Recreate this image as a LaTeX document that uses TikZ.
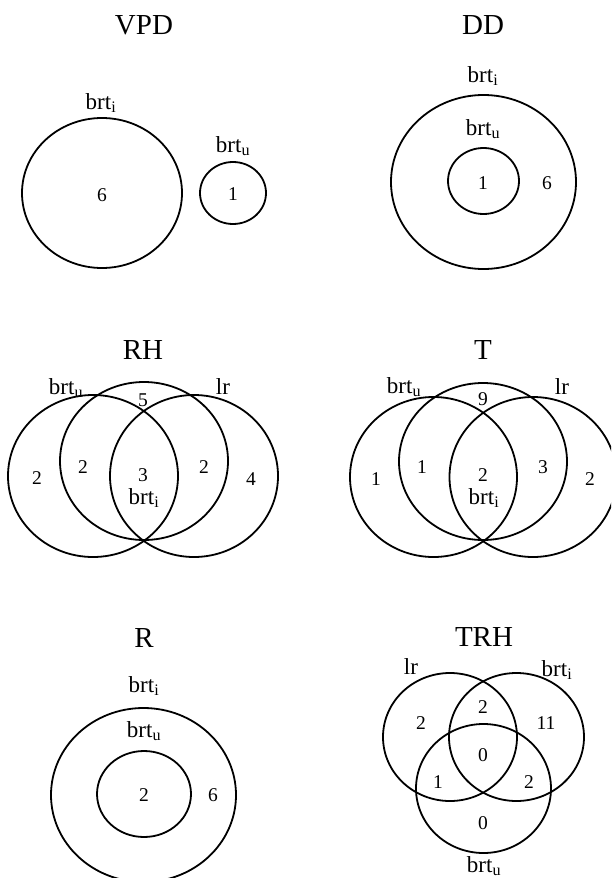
\documentclass[tikz,border=0pt]{standalone}
\usepackage{fontspec}
\setmainfont{Liberation Serif}
\newcommand\sbt[1]{\textsubscript{#1}}
\begin{document}
\begin{tikzpicture}[x=1pt,y=-1pt,
  set/.style={line width=1.8pt, draw=black},
  ttl/.style={font=\fontsize{29}{31}\selectfont, inner sep=0pt},
  lbl/.style={font=\fontsize{23}{25}\selectfont, inner sep=0pt},
  num/.style={font=\fontsize{19.5}{22}\selectfont, inner sep=0pt}]
\useasboundingbox (0,0) rectangle (611,878);
\clip (0,0) rectangle (611,878);

% ---------- VPD ----------
\node[ttl] (vpdT) at (144,25) {VPD};
\draw[set] (102,193) ellipse [x radius=80pt, y radius=75pt];
\draw[set] (233,193) ellipse [x radius=33pt, y radius=31pt];
\node[lbl] (vpdI) at (101,103) {brt\sbt{i}};
\node[lbl] (vpdU) at (233,146) {brt\sbt{u}};
\node[num] (vpd6) at (102,195) {6};
\node[num] (vpd1) at (233,194) {1};

% ---------- DD ----------
\node[ttl] (ddT) at (483,25) {DD};
\draw[set] (483.5,182) ellipse [x radius=92.5pt, y radius=87pt];
\draw[set] (483.5,181) ellipse [x radius=35.5pt, y radius=33pt];
\node[lbl] (ddI) at (483,76) {brt\sbt{i}};
\node[lbl] (ddU) at (483,129) {brt\sbt{u}};
\node[num] (dd1) at (483,183) {1};
\node[num] (dd6) at (547,183) {6};

% ---------- RH ----------
\node[ttl] (rhT) at (143,350) {RH};
\draw[set] (93,476) ellipse [x radius=85pt, y radius=81pt];
\draw[set] (144,461) ellipse [x radius=84pt, y radius=79pt];
\draw[set] (194,476) ellipse [x radius=84pt, y radius=81pt];
\node[lbl] (rhU) at (66,388) {brt\sbt{u}};
\node[lbl] (rhL) at (223,387) {lr};
\node[num] (rh5) at (143,400) {5};
\node[num] (rh2a) at (37,478) {2};
\node[num] (rh2b) at (83,467) {2};
\node[num] (rh3) at (143,475) {3};
\node[lbl] (rhI) at (144,498) {brt\sbt{i}};
\node[num] (rh2c) at (204,467) {2};
\node[num] (rh4) at (251,479) {4};

% ---------- T ----------
\node[ttl] (tT) at (483,350) {T};
\draw[set] (433.5,477) ellipse [x radius=83.5pt, y radius=80pt];
\draw[set] (483,461.5) ellipse [x radius=84pt, y radius=78.5pt];
\draw[set] (533,477) ellipse [x radius=83.5pt, y radius=80pt];
\node[lbl] (tU) at (404,387) {brt\sbt{u}};
\node[lbl] (tL) at (562,387) {lr};
\node[num] (t9) at (483,399) {9};
\node[num] (t1a) at (376,479) {1};
\node[num] (t1b) at (422,467) {1};
\node[num] (t2a) at (483,475) {2};
\node[lbl] (tI) at (484,498) {brt\sbt{i}};
\node[num] (t3) at (543,467) {3};
\node[num] (t2b) at (590,479) {2};

% ---------- R ----------
\node[ttl] (rT) at (144,638) {R};
\draw[set] (143.5,795) ellipse [x radius=92.5pt, y radius=87pt];
\draw[set] (144,794) ellipse [x radius=47pt, y radius=43pt];
\node[lbl] (rI) at (144,686) {brt\sbt{i}};
\node[lbl] (rU) at (144,731) {brt\sbt{u}};
\node[num] (r2) at (144,795) {2};
\node[num] (r6) at (213,795) {6};

% ---------- TRH ----------
\node[ttl] (trhT) at (484,637) {TRH};
\draw[set] (450,737) ellipse [x radius=67pt, y radius=64pt];
\draw[set] (516.5,737) ellipse [x radius=67.5pt, y radius=64pt];
\draw[set] (483.5,788.5) ellipse [x radius=67.5pt, y radius=64.5pt];
\node[lbl] (trhL) at (411,667) {lr};
\node[lbl] (trhI) at (557,670) {brt\sbt{i}};
\node[num] (trh2a) at (483,707) {2};
\node[num] (trh2b) at (421,723) {2};
\node[num] (trh11) at (546,723) {11};
\node[num] (trh0a) at (483,755) {0};
\node[num] (trh1) at (438,782) {1};
\node[num] (trh2c) at (529,782) {2};
\node[num] (trh0b) at (483,823) {0};
\node[lbl] (trhU) at (484,866) {brt\sbt{u}};
\end{tikzpicture}
\end{document}
